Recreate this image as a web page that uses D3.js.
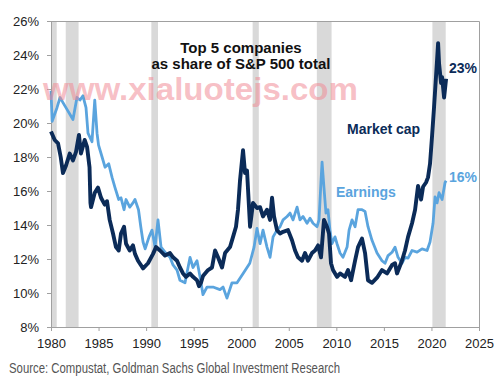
<!DOCTYPE html>
<html>
<head>
  <meta charset="utf-8">
  <script src="https://d3js.org/d3.v7.min.js"></script>
  <style>
    body { margin: 0; background: #fff; }
    .axis text { font: 13px "Liberation Sans", Arial, sans-serif; fill: #222; }
    .axis path, .axis line { stroke: #a0a0a0; }
  </style>
</head>
<body>
<svg id="chart"></svg>
<script>
// recession bands [start, end] in years
var recessions = [[1980.0, 1980.6], [1981.55, 1982.9], [1990.55, 1991.25], [2001.2, 2001.85], [2007.95, 2009.5], [2020.1, 2021.5]];

var xTicks = [1980, 1985, 1990, 1995, 2000, 2005, 2010, 2015, 2020, 2025];
var yTicks = [8, 10, 12, 14, 16, 18, 20, 22, 24, 26];

// market cap share of top 5 (%)
var mcapYears = [1980.0, 1980.39, 1980.74, 1981.02, 1981.26, 1981.58, 1981.97, 1982.31, 1982.63, 1982.94, 1983.15, 1983.54, 1983.79, 1984.05, 1984.15, 1984.21, 1984.6, 1984.94, 1985.26, 1985.65, 1985.89, 1986.17, 1986.52, 1986.83, 1987.12, 1987.36, 1987.68, 1987.89, 1988.28, 1988.62, 1988.83, 1989.15, 1989.68, 1990.2, 1990.73, 1991.04, 1991.46, 1991.99, 1992.51, 1992.83, 1993.25, 1993.56, 1993.88, 1994.2, 1994.62, 1994.93, 1995.35, 1995.56, 1995.77, 1995.98, 1996.51, 1996.93, 1997.25, 1997.56, 1997.98, 1998.3, 1998.82, 1999.14, 1999.45, 1999.66, 1999.87, 2000.19, 2000.4, 2000.61, 2000.72, 2000.93, 2001.24, 2001.66, 2001.98, 2002.29, 2002.71, 2003.03, 2003.24, 2003.45, 2003.76, 2004.08, 2004.4, 2004.92, 2005.34, 2005.66, 2005.97, 2006.39, 2006.71, 2007.02, 2007.44, 2007.76, 2008.08, 2008.39, 2008.7, 2009.02, 2009.23, 2009.44, 2009.65, 2010.07, 2010.39, 2010.91, 2011.23, 2011.55, 2011.97, 2012.28, 2012.7, 2013.02, 2013.33, 2013.75, 2014.28, 2014.8, 2015.33, 2015.86, 2016.17, 2016.38, 2016.9, 2017.22, 2017.54, 2017.96, 2018.28, 2018.59, 2018.91, 2019.12, 2019.43, 2019.64, 2019.85, 2020.06, 2020.27, 2020.59, 2020.7, 2020.8, 2021.01, 2021.12, 2021.33, 2021.54];
var mcapValues = [19.5, 19.0, 18.8, 18.0, 17.05, 17.5, 18.2, 17.8, 18.3, 19.3, 18.2, 19.0, 18.6, 17.4, 15.3, 15.05, 15.9, 16.2, 15.6, 15.2, 15.4, 14.3, 13.5, 12.7, 12.5, 13.5, 13.9, 12.9, 12.5, 12.8, 12.3, 11.9, 11.45, 11.75, 12.3, 12.7, 12.5, 12.2, 12.35, 12.1, 11.9, 11.5, 11.15, 10.95, 11.15, 10.95, 10.75, 10.4, 10.6, 11.0, 11.35, 11.5, 12.5, 12.1, 11.5, 12.35, 12.7, 13.3, 13.9, 14.9, 16.6, 18.4, 17.05, 17.2, 16.05, 13.9, 15.3, 15.0, 15.05, 14.5, 14.9, 14.3, 15.6, 14.5, 13.7, 13.5, 13.6, 13.7, 13.1, 12.5, 12.1, 11.9, 12.35, 11.9, 12.35, 12.5, 12.8, 12.1, 14.3, 13.9, 13.5, 11.75, 11.35, 10.95, 11.15, 10.95, 11.35, 10.75, 11.9, 12.7, 13.2, 12.35, 10.75, 10.6, 10.9, 11.35, 11.15, 11.65, 11.75, 11.15, 11.9, 12.5, 13.3, 14.1, 14.9, 16.3, 15.5, 16.25, 16.5, 16.8, 17.6, 19.2, 20.9, 23.7, 24.7, 23.5, 22.35, 22.7, 21.5, 22.6];

// earnings share of top 5 (%)
var earnYears = [1980.0, 1980.12, 1980.63, 1980.95, 1981.26, 1981.68, 1982.0, 1982.31, 1982.73, 1983.05, 1983.36, 1983.68, 1983.89, 1984.31, 1984.6, 1984.84, 1985.0, 1985.37, 1985.68, 1986.07, 1986.42, 1986.73, 1987.12, 1987.36, 1987.68, 1987.89, 1988.28, 1988.62, 1988.83, 1989.2, 1989.44, 1989.68, 1989.9, 1990.31, 1990.62, 1990.94, 1991.25, 1991.57, 1991.99, 1992.51, 1992.83, 1993.25, 1993.56, 1994.09, 1994.62, 1994.93, 1995.35, 1995.67, 1995.98, 1996.4, 1997.03, 1997.77, 1998.09, 1998.5, 1999.03, 1999.56, 2000.2, 2000.9, 2001.35, 2001.66, 2001.98, 2002.29, 2002.71, 2003.03, 2003.35, 2003.76, 2004.08, 2004.4, 2004.82, 2005.13, 2005.45, 2005.87, 2006.18, 2006.5, 2006.92, 2007.23, 2007.55, 2007.97, 2008.18, 2008.39, 2008.5, 2008.7, 2008.91, 2009.12, 2009.33, 2009.54, 2009.86, 2010.07, 2010.39, 2010.7, 2011.13, 2011.34, 2011.65, 2011.97, 2012.28, 2012.7, 2013.02, 2013.33, 2013.75, 2014.28, 2014.8, 2015.12, 2015.44, 2015.86, 2016.17, 2016.49, 2016.9, 2017.22, 2017.54, 2017.96, 2018.49, 2019.01, 2019.54, 2019.85, 2020.17, 2020.38, 2020.59, 2020.8, 2021.12, 2021.43, 2021.54];
var earnValues = [21.9, 20.1, 20.9, 21.5, 21.2, 20.8, 20.5, 20.2, 21.5, 21.35, 21.6, 20.9, 19.4, 18.9, 21.35, 19.4, 18.7, 18.0, 17.4, 17.6, 16.8, 16.2, 15.5, 15.6, 14.9, 15.5, 15.05, 15.3, 15.5, 14.9, 13.9, 13.0, 12.6, 13.3, 13.7, 12.7, 14.3, 12.7, 12.4, 12.1, 11.65, 11.35, 10.75, 10.6, 12.1, 11.5, 11.9, 10.95, 9.9, 10.35, 10.35, 10.2, 10.35, 9.7, 10.6, 10.6, 11.15, 11.75, 12.7, 13.8, 12.9, 13.7, 12.7, 12.1, 13.3, 13.7, 13.9, 14.3, 14.5, 14.7, 14.3, 15.05, 14.3, 14.5, 14.1, 14.4, 14.1, 13.9, 14.3, 16.6, 17.7, 16.2, 14.7, 14.9, 13.7, 12.9, 13.3, 12.9, 12.35, 12.1, 12.7, 13.7, 14.3, 13.9, 14.9, 14.9, 14.8, 13.9, 13.1, 12.35, 11.9, 11.75, 12.2, 12.4, 12.7, 12.1, 11.75, 12.1, 12.05, 12.5, 12.4, 12.6, 12.5, 13.0, 14.1, 15.65, 15.3, 15.9, 15.5, 16.5, 16.6];

var W = 500, H = 385;
var margin = { top: 21, right: 21, bottom: 58, left: 51 };

var svg = d3.select("#chart").attr("width", W).attr("height", H);

var x = d3.scaleLinear().domain([1980, 2025]).range([margin.left, W - margin.right]);
var y = d3.scaleLinear().domain([8, 26]).range([H - margin.bottom, margin.top]);

// recession shading
svg.selectAll(".rec")
  .data(recessions)
  .enter().append("rect")
  .attr("x", function (d) { return x(d[0]); })
  .attr("width", function (d) { return x(d[1]) - x(d[0]); })
  .attr("y", y(26))
  .attr("height", y(8) - y(26))
  .attr("fill", "#d9d9d9");

// frame: top and right
svg.append("path")
  .attr("d", "M" + x(1980) + "," + (y(26) + 0.5) + "H" + (x(2025) + 0.5) + "V" + y(8))
  .attr("fill", "none")
  .attr("stroke", "#a0a0a0");

svg.append("g")
  .attr("class", "axis")
  .attr("transform", "translate(0," + y(8) + ")")
  .call(d3.axisBottom(x).tickValues(xTicks).tickFormat(d3.format("d")).tickSize(4).tickSizeOuter(0))
  .call(function (g) { g.selectAll("text").attr("dy", "1.05em"); });

svg.append("g")
  .attr("class", "axis")
  .attr("transform", "translate(" + x(1980) + ",0)")
  .call(d3.axisLeft(y).tickValues(yTicks).tickFormat(function (d) { return d + "%"; }).tickSize(4).tickSizeOuter(0).tickPadding(8));

var line = d3.line()
  .x(function (d) { return x(d[0]); })
  .y(function (d) { return y(d[1]); });

svg.append("path")
  .datum(d3.zip(earnYears, earnValues))
  .attr("d", line)
  .attr("fill", "none")
  .attr("stroke", "#5aa4de")
  .attr("stroke-width", 2.8)
  .attr("stroke-linejoin", "round");

svg.append("path")
  .datum(d3.zip(mcapYears, mcapValues))
  .attr("d", line)
  .attr("fill", "none")
  .attr("stroke", "#0b2b58")
  .attr("stroke-width", 3.9)
  .attr("stroke-linejoin", "round");

// titles and labels
var font = "'Liberation Sans', Arial, sans-serif";
svg.append("text").attr("x", 241).attr("y", 53).attr("text-anchor", "middle")
  .style("font", "bold 15px " + font).attr("fill", "#111").text("Top 5 companies");
svg.append("text").attr("x", 241).attr("y", 69).attr("text-anchor", "middle")
  .style("font", "bold 15px " + font).attr("fill", "#111").text("as share of S&P 500 total");

svg.append("text").attr("x", 347).attr("y", 134)
  .style("font", "bold 14px " + font).attr("fill", "#0b2b58").text("Market cap");
svg.append("text").attr("x", 336).attr("y", 197)
  .style("font", "bold 14px " + font).attr("fill", "#5aa4de").text("Earnings");
svg.append("text").attr("x", 449).attr("y", 73)
  .style("font", "bold 14px " + font).attr("fill", "#0b2b58").text("23%");
svg.append("text").attr("x", 449).attr("y", 182)
  .style("font", "bold 14px " + font).attr("fill", "#5aa4de").text("16%");

// watermark
svg.append("text").attr("x", 43).attr("y", 100)
  .attr("textLength", 315).attr("lengthAdjust", "spacingAndGlyphs")
  .style("font", "bold 32px " + font).attr("fill", "#f08a94").attr("fill-opacity", 0.55)
  .text("www.xialuotejs.com");

svg.append("text").attr("x", 9).attr("y", 373)
  .attr("textLength", 331).attr("lengthAdjust", "spacingAndGlyphs")
  .style("font", "14px 'Liberation Sans Narrow', 'Arial Narrow', " + font).attr("fill", "#555")
  .text("Source: Compustat, Goldman Sachs Global Investment Research");
</script>
</body>
</html>
